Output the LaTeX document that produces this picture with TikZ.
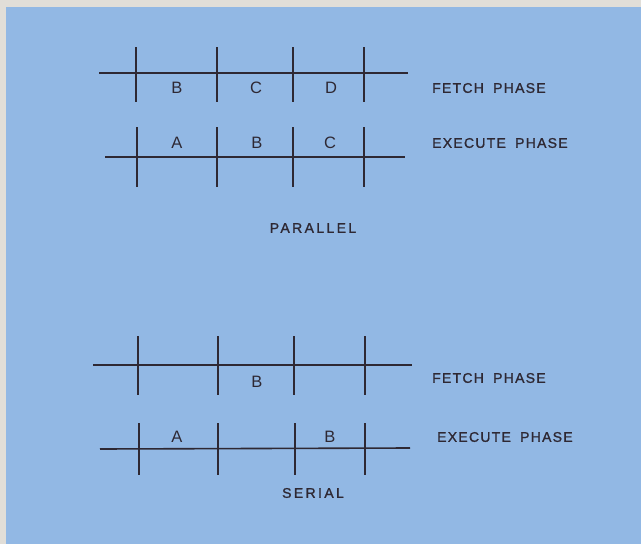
\documentclass[tikz,border=0pt]{standalone}
\usepackage{fontspec}
\setmainfont{Liberation Sans}
\newfontfamily\phasefont[LetterSpace=9,WordSpace=1.8,FakeBold=1.2]{Liberation Sans}
\newfontfamily\titlefont[LetterSpace=17,FakeBold=1.2]{Liberation Sans}
\usetikzlibrary{positioning}
\definecolor{tdblue}{HTML}{92B8E4}
\definecolor{tdedge}{HTML}{E1DED8}
\definecolor{tdink}{HTML}{2E2833}
\tikzset{
  axis/.style={draw=tdink, line width=1.9pt},
  tick/.style={draw=tdink, line width=1.9pt},
  slot/.style={text=tdink, font=\fontsize{16.5}{18}\selectfont, inner sep=0pt},
  phase/.style={text=tdink, anchor=west, inner sep=0pt,
    font=\phasefont\fontsize{14}{16}\selectfont},
  title/.style={text=tdink, inner sep=0pt,
    font=\titlefont\fontsize{14}{16}\selectfont}
}
\begin{document}
\begin{tikzpicture}[x=1pt, y=-1pt]
  \useasboundingbox (0,0) rectangle (641,544);
  \fill[tdedge] (0,0) rectangle (641,544);
  \fill[tdblue] (6,7) rectangle (641,544);

  % parallel: fetch
  \coordinate (pf0) at (99,73);
  \coordinate (pf1) at (408,73);
  \draw[axis] (pf0) -- (pf1);
  \foreach \x in {136,217,293,364}
    {\draw[tick] (\x,47) -- (\x,102);}
  \foreach \x/\s in {177/B, 256/C, 331/D}
    {\node[slot] (pf\s) at (\x,88) {\s};}
  \node[phase] (pfetch) at (432,88) {FETCH PHASE};

  % parallel: execute
  \coordinate (pe0) at (105,157);
  \coordinate (pe1) at (405,157);
  \draw[axis, line width=1.5pt] (pe0) -- (pe1);
  \foreach \x in {137,217,293,364}
    {\draw[tick] (\x,127) -- (\x,187);}
  \foreach \x/\s in {177/A, 257/B, 330/C}
    {\node[slot] (pe\s) at (\x,143) {\s};}
  \node[phase] (pexec) at (432,143) {EXECUTE PHASE};

  \node[title] (par) at (313,228) {PARALLEL};

  % serial: fetch
  \coordinate (sf0) at (93,365);
  \coordinate (sf1) at (412,365);
  \draw[axis] (sf0) -- (sf1);
  \foreach \x in {138,218,294,365}
    {\draw[tick] (\x,336) -- (\x,395);}
  \node[slot] (sfB) at (257,382) {B};
  \node[phase] (sfetch) at (432,378) {FETCH PHASE};

  % serial: execute
  \coordinate (se0) at (100,449);
  \coordinate (se1) at (410,448);
  \draw[axis, line width=1.6pt] (se0) -- (se1);
  \foreach \x in {139,218,295,365}
    {\draw[tick] (\x,423) -- (\x,475);}
  \node[slot] (seA) at (177,437) {A};
  \node[slot] (seB) at (330,437) {B};
  \node[phase] (sexec) at (437,437) {EXECUTE PHASE};

  \node[title] (ser) at (313,493) {SERIAL};
\end{tikzpicture}
\end{document}
